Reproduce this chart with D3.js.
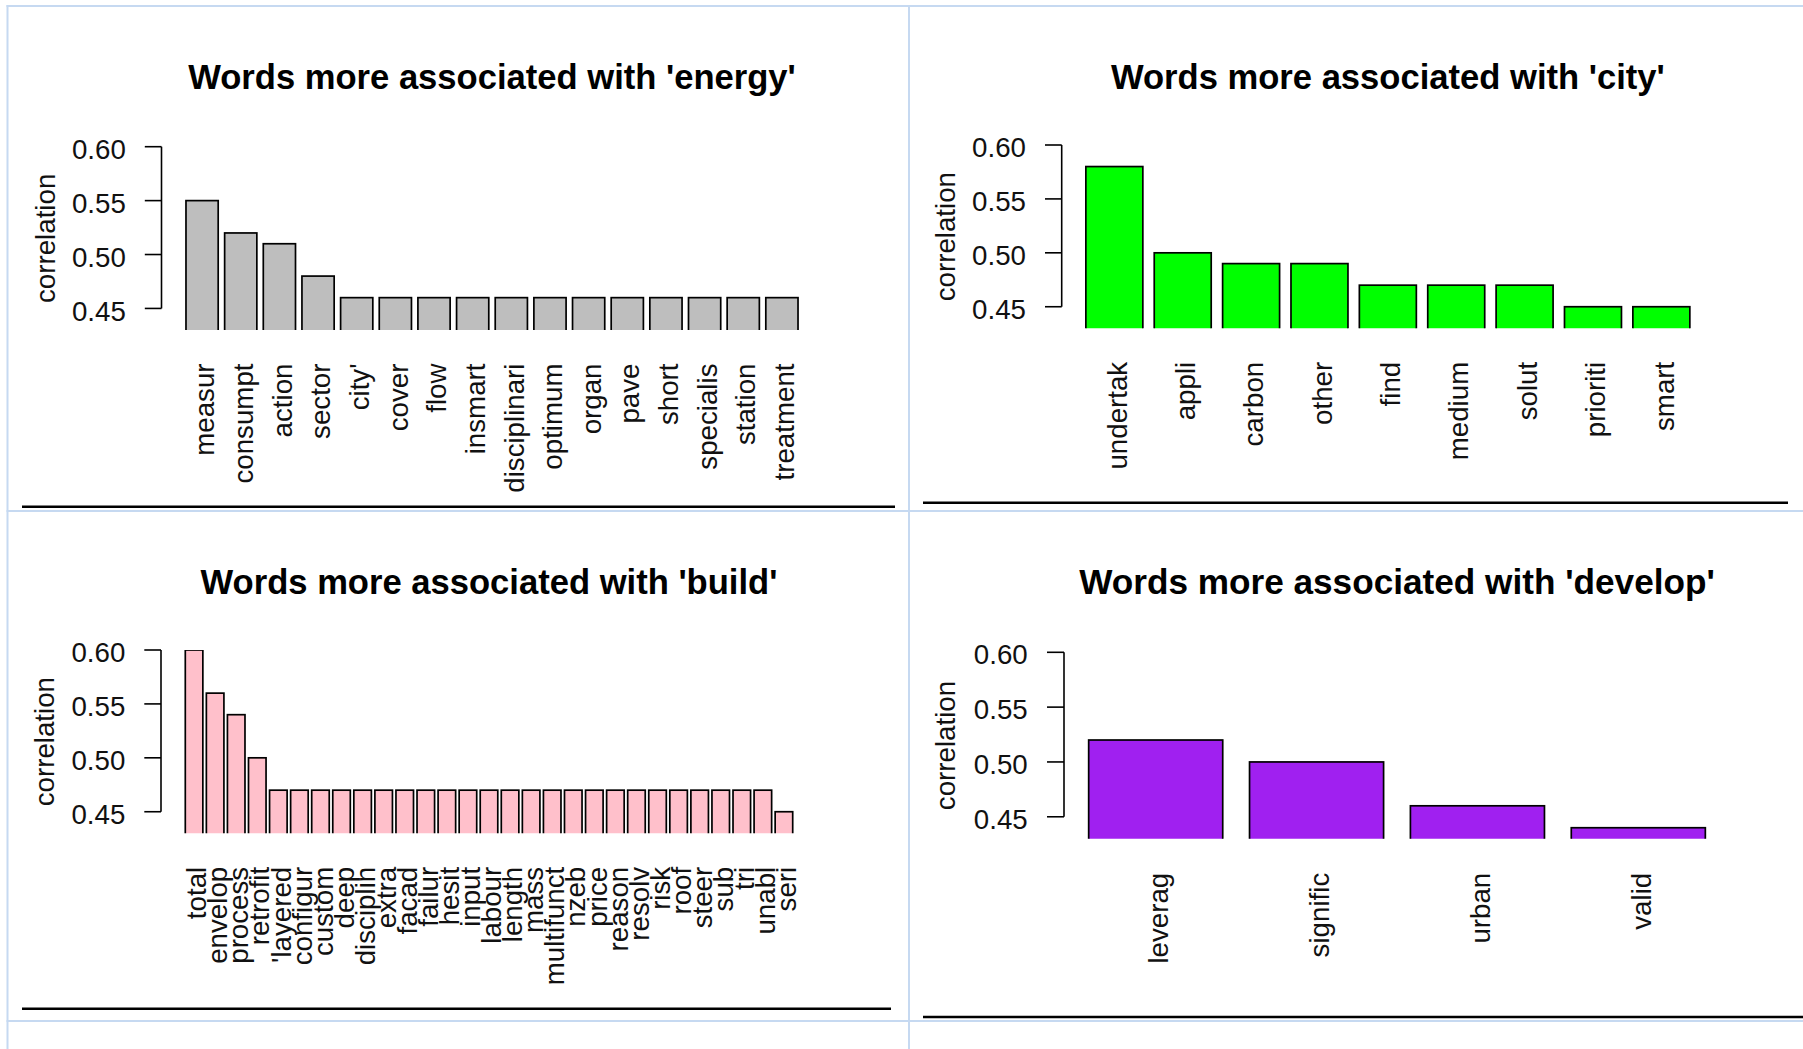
<!DOCTYPE html>
<html>
<head>
<meta charset="utf-8">
<title>Word associations</title>
<script src="https://d3js.org/d3.v7.min.js"></script>
<style>
body { margin: 0; background: #fff; }
svg { display: block; font-family: "Liberation Sans", Arial, sans-serif; }
.grid line { stroke: #c6d9f1; stroke-width: 2; }
.bar { stroke: #000; stroke-width: 1.7; }
.axis line { stroke: #000; stroke-width: 1.6; }
.tick-label, .bar-label, .ylab { font-size: 27.7px; fill: #111; }
.title { font-weight: bold; fill: #000; text-anchor: middle; }
.rule { stroke: #000; stroke-width: 2.5; }
</style>
</head>
<body>
<svg id="chart" width="1803" height="1049"></svg>
<script>
// ---- data ----
var energyWords = ["measur", "consumpt", "action", "sector", "city'", "cover", "flow", "insmart",
  "disciplinari", "optimum", "organ", "pave", "short", "specialis", "station", "treatment"];
var energyCorr = [0.55, 0.52, 0.51, 0.48, 0.46, 0.46, 0.46, 0.46,
  0.46, 0.46, 0.46, 0.46, 0.46, 0.46, 0.46, 0.46];

var cityWords = ["undertak", "appli", "carbon", "other", "find", "medium", "solut", "prioriti", "smart"];
var cityCorr = [0.58, 0.50, 0.49, 0.49, 0.47, 0.47, 0.47, 0.45, 0.45];

var buildWords = ["total", "envelop", "process", "retrofit", "'layered", "configur", "custom", "deep",
  "disciplin", "extra", "facad", "failur", "hesit", "input", "labour", "length", "mass", "multifunct",
  "nzeb", "price", "reason", "resolv", "risk", "roof", "steer", "sub", "tri", "unabl", "seri"];
var buildCorr = [0.60, 0.56, 0.54, 0.50, 0.47, 0.47, 0.47, 0.47,
  0.47, 0.47, 0.47, 0.47, 0.47, 0.47, 0.47, 0.47, 0.47, 0.47,
  0.47, 0.47, 0.47, 0.47, 0.47, 0.47, 0.47, 0.47, 0.47, 0.47, 0.45];

var developWords = ["leverag", "signific", "urban", "valid"];
var developCorr = [0.52, 0.50, 0.46, 0.44];

var yTicks = [0.45, 0.50, 0.55, 0.60];
var yLimits = [0.43, 0.60];

// ---- layout of the four cells (plot regions measured off the page) ----
var panels = [
  {key: "energy", words: energyWords, corr: energyCorr, fill: "#bebebe",
   x0: 161.5, x1: 822.5, yTop: 146.7, yBot: 330, titleY: 89, ruleY: 506.7, ruleX: [22, 895]},
  {key: "city", words: cityWords, corr: cityCorr, fill: "#00ff00",
   x0: 1061.7, x1: 1714, yTop: 145, yBot: 328.3, titleY: 89, ruleY: 502.7, ruleX: [923, 1788]},
  {key: "build", words: buildWords, corr: buildCorr, fill: "#ffc0cb",
   x0: 161, x1: 817, yTop: 650, yBot: 833.3, titleY: 594, ruleY: 1008.7, ruleX: [22, 891]},
  {key: "develop", words: developWords, corr: developCorr, fill: "#a020f0",
   x0: 1064, x1: 1730, yTop: 652.3, yBot: 838.7, titleY: 594, ruleY: 1017, ruleX: [923, 1803]}
];

var svg = d3.select("#chart");

// table borders
var grid = svg.append("g").attr("class", "grid");
[7.5, 909].forEach(function (x) {
  grid.append("line").attr("x1", x).attr("x2", x).attr("y1", 5).attr("y2", 1049);
});
[6, 511, 1021].forEach(function (y) {
  grid.append("line").attr("x1", 6.5).attr("x2", 1803).attr("y1", y).attr("y2", y);
});

var defs = svg.append("defs");

panels.forEach(function (p) {
  var s = (p.yBot - p.yTop) / 183.3;   // small size difference between the pictures
  var g = svg.append("g").attr("class", "panel " + p.key);

  var y = d3.scaleLinear().domain(yLimits).range([p.yBot, p.yTop]);

  // R barplot: bars fill the region less 4% on each side, space = 0.2
  var pad = (p.x1 - p.x0) * 0.04 / 1.08;
  var x = d3.scaleBand()
    .domain(p.words)
    .range([p.x0 + pad, p.x1 - pad])
    .paddingInner(0.2 / 1.2)
    .paddingOuter(0);

  defs.append("clipPath").attr("id", "clip-" + p.key)
    .append("rect")
    .attr("x", p.x0).attr("y", p.yTop)
    .attr("width", p.x1 - p.x0).attr("height", p.yBot - p.yTop);

  g.append("g")
    .attr("clip-path", "url(#clip-" + p.key + ")")
    .selectAll("rect")
    .data(p.words)
    .enter().append("rect")
      .attr("class", "bar")
      .attr("fill", p.fill)
      .attr("x", function (d) { return x(d); })
      .attr("width", x.bandwidth())
      .attr("y", function (d, i) { return y(p.corr[i]); })
      .attr("height", function (d, i) { return p.yBot + 10 - y(p.corr[i]); });

  // y axis, R style: line only over the tick range
  var axis = g.append("g").attr("class", "axis");
  axis.append("line")
    .attr("x1", p.x0).attr("x2", p.x0)
    .attr("y1", y(yTicks[0])).attr("y2", y(yTicks[yTicks.length - 1]));
  axis.selectAll(".tk")
    .data(yTicks)
    .enter().append("line")
      .attr("class", "tk")
      .attr("x1", p.x0 - 16.7 * s).attr("x2", p.x0)
      .attr("y1", function (d) { return y(d); })
      .attr("y2", function (d) { return y(d); });
  axis.selectAll("text")
    .data(yTicks)
    .enter().append("text")
      .attr("class", "tick-label")
      .attr("text-anchor", "end")
      .attr("x", p.x0 - 35.7 * s)
      .attr("y", function (d) { return y(d); })
      .attr("dy", "0.44em")
      .text(d3.format(".2f"));

  // word labels, perpendicular to the axis
  g.selectAll(".bar-label")
    .data(p.words)
    .enter().append("text")
      .attr("class", "bar-label")
      .attr("text-anchor", "end")
      .attr("transform", function (d) {
        return "translate(" + (x(d) + x.bandwidth() / 2) + "," + (p.yBot + 33.5 * s) + ") rotate(-90)";
      })
      .attr("dy", "0.44em")
      .text(function (d) { return d; });

  g.append("text")
    .attr("class", "ylab")
    .attr("text-anchor", "middle")
    .attr("transform", "translate(" + (p.x0 - 106.7 * s) + "," + ((p.yTop + p.yBot) / 2) + ") rotate(-90)")
    .text("correlation");

  g.append("text")
    .attr("class", "title")
    .attr("x", (p.x0 + p.x1) / 2)
    .attr("y", p.titleY)
    .style("font-size", (34.6 * s) + "px")
    .text("Words more associated with '" + p.key + "'");

  g.append("line")
    .attr("class", "rule")
    .attr("x1", p.ruleX[0]).attr("x2", p.ruleX[1])
    .attr("y1", p.ruleY).attr("y2", p.ruleY);
});
</script>
</body>
</html>
